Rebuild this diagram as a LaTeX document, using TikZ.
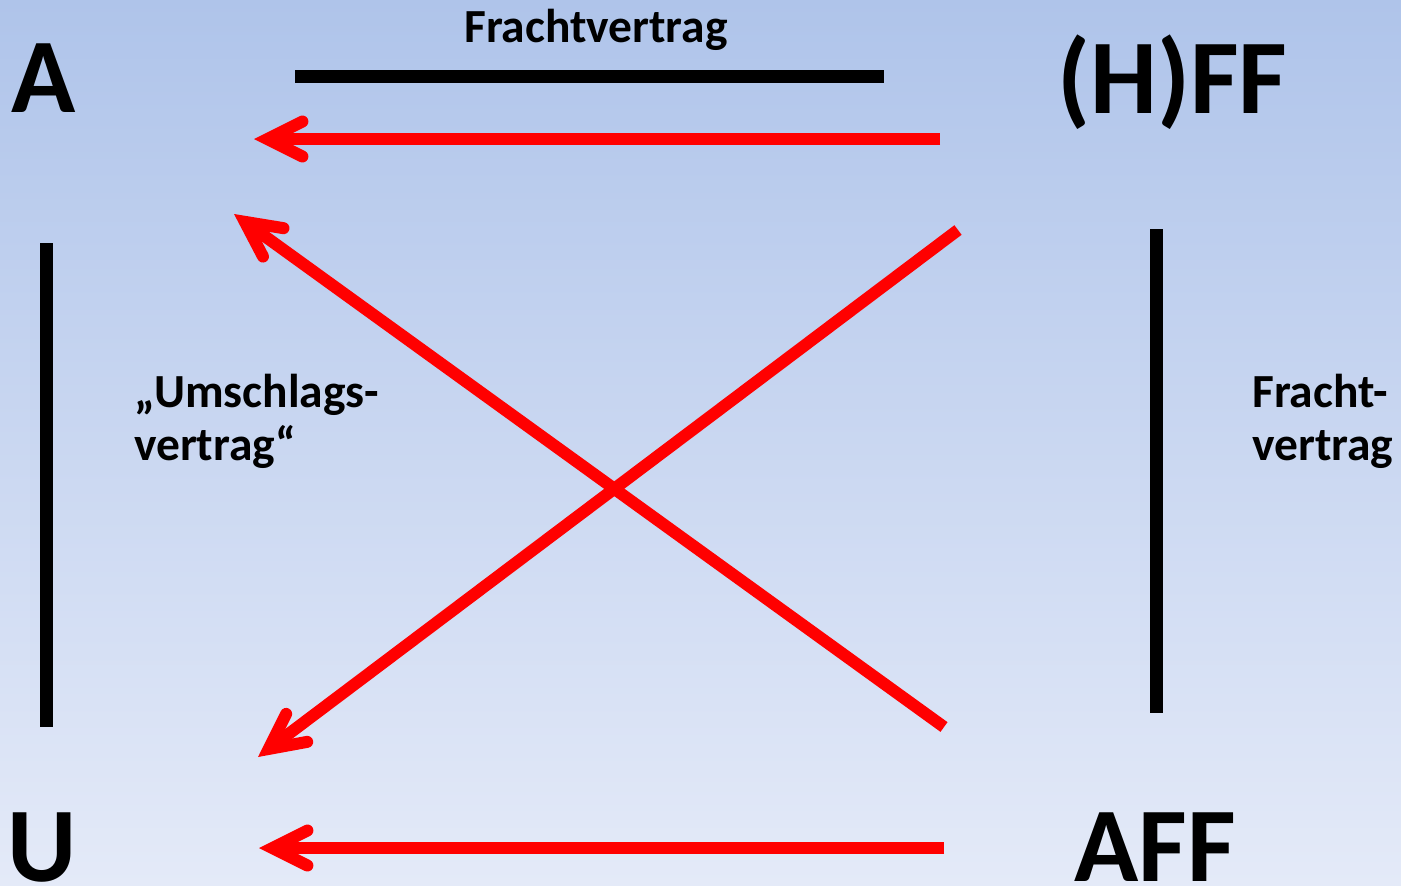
\documentclass[tikz,border=0pt]{standalone}
\usepackage{fontspec}
\setmainfont{Carlito}
\usetikzlibrary{arrows.meta}

\definecolor{bgtop}{RGB}{175,196,234}
\definecolor{bgbottom}{RGB}{228,234,248}
\definecolor{flowred}{RGB}{255,0,0}

\tikzset{
	party/.style={inner sep=0pt, anchor=base west,
		font=\fontsize{106}{127}\selectfont\bfseries},
	contract/.style={inner sep=0pt, anchor=base west, align=left,
		font=\fontsize{47.5}{53}\selectfont\bfseries},
	bar/.style={black, line width=13pt},
	flow/.style={flowred, line width=12pt,
		-{Straight Barb[length=35pt, width=35pt, line cap=round, line join=miter]}}
}

\begin{document}
\begin{tikzpicture}[x=1pt, y=-1pt]
		% background
		\shade [top color=bgtop, bottom color=bgbottom] (0,0) rectangle (1401,886);
		\useasboundingbox (0,0) rectangle (1401,886);
		% parties
		\node [party] (A) at (11,112) {A};
		\node [party] (HFF) at (1057,113) {(H)FF};
		\node [party] (U) at (7,881) {U};
		\node [party] (AFF) at (1074,881) {AFF};
		% contracts (base = last line)
		\node [contract] (fv top) at (464,42) {Frachtvertrag};
		\node [contract] (uv) at (134,460) {„Umschlags-\\vertrag“};
		\node [contract] (fv right) at (1252,460) {Fracht-\\vertrag};
		% end points
		\coordinate (top l) at (295,76);   \coordinate (top r) at (884,76);
		\coordinate (left t) at (46,243);  \coordinate (left b) at (46,727);
		\coordinate (right t) at (1156,229); \coordinate (right b) at (1156,713);
		\coordinate (hff out) at (940,139); \coordinate (a in) at (254,139);
		\coordinate (aff up) at (944,727);  \coordinate (a in2) at (234,214);
		\coordinate (hff down) at (958,230); \coordinate (u in2) at (258,757);
		\coordinate (aff out) at (944,848); \coordinate (u in) at (259,848);
		% contract bars
		\draw [bar] (top l) -- (top r);
		\draw [bar] (left t) -- (left b);
		\draw [bar] (right t) -- (right b);
		% goods flow
		\draw [flow] (hff out) -- (a in);
		\draw [flow] (aff up) -- (a in2);
		\draw [flow] (hff down) -- (u in2);
		\draw [flow] (aff out) -- (u in);
	\end{tikzpicture}
\end{document}
